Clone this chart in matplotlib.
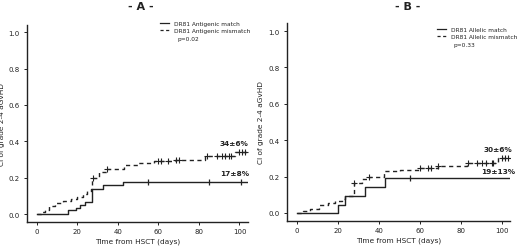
import numpy as np
import matplotlib
matplotlib.use("Agg")
import matplotlib.pyplot as plt
from matplotlib.lines import Line2D

plt.rcParams['font.family'] = ['DejaVu Sans']

# ---------------- data ----------------
# Panel A
a_match_days = [0, 15.5, 19.6, 21.2, 23.7, 27.4, 32.7, 42.8]
a_match_vals = [0, 0.02, 0.035, 0.05, 0.065, 0.14, 0.16, 0.177]
a_match_cens = [54.7, 85, 100.8]
a_mis_days = [0, 2, 4, 6, 9, 13, 17, 20, 23, 25, 27, 27.5, 31, 34, 43, 50, 58, 68, 83, 98]
a_mis_vals = [0, 0.01, 0.022, 0.045, 0.06, 0.072, 0.085, 0.095, 0.11, 0.125, 0.137, 0.2, 0.23, 0.25,
              0.272, 0.28, 0.29, 0.297, 0.32, 0.342]
a_mis_cens = [28, 34.5, 59.7, 61.4, 65, 68.6, 70.3, 84, 88.7, 91.2, 93, 94.8, 95.6, 99.8, 101.4, 102.8]
a_end = 104
a_labels = ["DR81 Antigenic match", "DR81 Antigenic mismatch"]
a_p = "p=0.02"
a_ann = ["34\u00b16%", "17\u00b18%"]

# Panel B
b_match_days = [0, 20, 23.3, 33, 43]
b_match_vals = [0, 0.044, 0.096, 0.144, 0.194]
b_match_cens = [55]
b_mis_days = [0, 3, 6.5, 10.6, 15, 18.7, 22, 23.3, 27.6, 31.7, 35, 42.3, 50, 60, 69, 83, 98]
b_mis_vals = [0, 0.01, 0.022, 0.046, 0.055, 0.065, 0.078, 0.093, 0.167, 0.185, 0.2, 0.23,
              0.238, 0.247, 0.256, 0.275, 0.30]
b_mis_cens = [27.8, 35, 60, 64, 65.2, 69, 83.6, 88, 90, 92, 94.9, 95.8, 99.8, 101.5, 103]
b_end = 104
b_labels = ["DR81 Allelic match", "DR81 Allelic mismatch"]
b_p = "p=0.33"
b_ann = ["30\u00b16%", "19\u00b113%"]

xticks = [0, 20, 40, 60, 80, 100]
yticks = [0.0, 0.2, 0.4, 0.6, 0.8, 1.0]
ylabel = "CI of grade 2-4 aGvHD"
xlabel = "Time from HSCT (days)"

# ---------------- drawing ----------------
W, H = 520, 251
fig = plt.figure(figsize=(W / 100, H / 100), dpi=100)
col = "#222222"


def step_val(days, vals, t):
    i = np.searchsorted(days, t, side='right') - 1
    return vals[max(i, 0)]


def panel(rect, xlim, ylim, md, mv, mc, dd, dv, dc, end, labels, ptxt, ann, ann_x, ann_y, leg_xy, title, title_x):
    ax = fig.add_axes(rect)
    for s in ['top', 'right']:
        ax.spines[s].set_visible(False)
    for s in ['left', 'bottom']:
        ax.spines[s].set_color(col)
        ax.spines[s].set_linewidth(1.0)
    ax.set_xlim(*xlim)
    ax.set_ylim(*ylim)
    ax.set_xticks(xticks)
    ax.set_yticks(yticks)
    ax.set_yticklabels([f"{v:.1f}" for v in yticks])
    ax.tick_params(axis='both', labelsize=5, colors=col, length=2.5, width=0.7, pad=2)
    ax.tick_params(axis='y', pad=3)
    ax.set_xlabel(xlabel, fontsize=5.3, color=col, labelpad=2)
    ax.set_ylabel(ylabel, fontsize=5.3, color=col)
    ax.yaxis.set_label_coords(-22.5 / (rect[2] * W), 0.5)

    # solid (match)
    mx = list(md) + [end]
    my = list(mv) + [mv[-1]]
    ax.step(mx, my, where='post', color=col, lw=1.0)
    ax.plot(mc, [step_val(md, mv, t) for t in mc], ls='none', marker='|', ms=4, mew=0.9, color=col)
    # dashed (mismatch)
    dx = list(dd) + [end]
    dy = list(dv) + [dv[-1]]
    ax.step(dx, dy, where='post', color=col, lw=1.0, ls=(0, (3, 2.5)))
    ax.plot(dc, [step_val(dd, dv, t) for t in dc], ls='none', marker='+', ms=4, mew=0.8, color=col)

    ax.text(ann_x, ann_y[0], ann[0], fontsize=5.3, fontweight='bold', color=col, ha='center', va='center')
    ax.text(ann_x, ann_y[1], ann[1], fontsize=5.3, fontweight='bold', color=col, ha='center', va='center')

    handles = [Line2D([], [], color=col, lw=0.9),
               Line2D([], [], color=col, lw=0.9, ls=(0, (2.5, 2)))]
    leg = ax.legend(handles, labels, loc='upper left', bbox_to_anchor=leg_xy,
                    bbox_transform=fig.transFigure, frameon=False, fontsize=4.2,
                    handlelength=1.6, handletextpad=0.8, labelspacing=0.3, borderpad=0,
                    borderaxespad=0)
    for t in leg.get_texts():
        t.set_color(col)
    fig.text(leg_xy[0] + 17 / W, leg_xy[1] - 17 / H, ptxt, fontsize=4.2, color=col, va='center')

    fig.text(title_x, 1 - 7 / H, title, fontsize=8, fontweight='bold', color=col, ha='center', va='center')
    return ax


panel([27 / W, 1 - 223 / H, 221 / W, 197 / H], (-4.7, 104.2), (-0.044, 1.04),
      a_match_days, a_match_vals, a_match_cens, a_mis_days, a_mis_vals, a_mis_cens, a_end,
      a_labels, a_p, a_ann, 97.5, (0.39, 0.225), (160 / W, 1 - 22 / H), "- A -", 141 / W)

panel([287 / W, 1 - 222 / H, 223 / W, 198 / H], (-4.9, 103.9), (-0.044, 1.044),
      b_match_days, b_match_vals, b_match_cens, b_mis_days, b_mis_vals, b_mis_cens, b_end,
      b_labels, b_p, b_ann, 98, (0.35, 0.23), (437 / W, 1 - 28 / H), "- B -", 408 / W)

fig.savefig("out.png", dpi=100)
